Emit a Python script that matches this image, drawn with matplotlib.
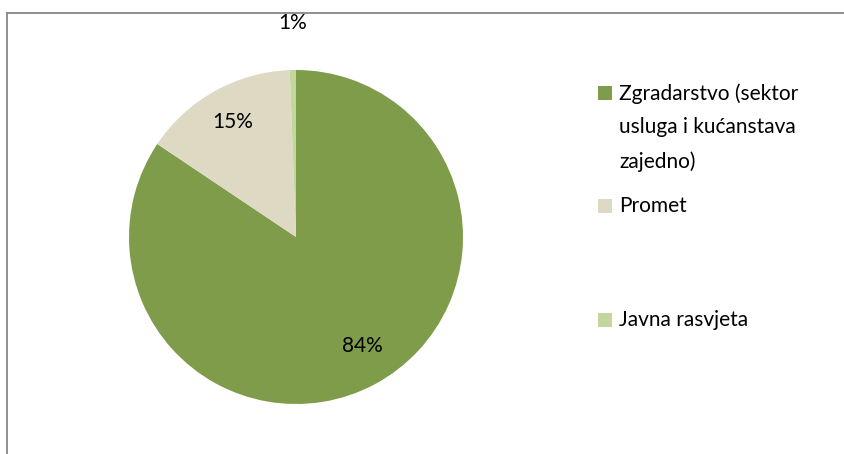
import matplotlib.pyplot as plt
from matplotlib.patches import Rectangle
from matplotlib.lines import Line2D

plt.rcParams['font.family'] = ['Lato', 'DejaVu Sans']

labels = ["Zgradarstvo (sektor\nusluga i kućanstava\nzajedno)", "Promet", "Javna rasvjeta"]
values = [84.4, 15.0, 0.6]
pct_labels = ["84%", "15%", "1%"]
colors = ["#7F9C4B", "#DDD9C3", "#C3D69B"]

W, H = 844, 454
fig = plt.figure(figsize=(W / 100, H / 100), dpi=100)

# okvir grafikona (lijevo i gore)
fig.add_artist(Line2D([6.5 / W, 6.5 / W], [0, 1 - 12.5 / H], color="#868686", lw=1.3))
fig.add_artist(Line2D([6.5 / W, 1], [1 - 12.5 / H, 1 - 12.5 / H], color="#868686", lw=1.3))

ax = fig.add_axes([129 / W, 1 - 404 / H, 334 / W, 334 / H])
wedges, _ = ax.pie(values, colors=colors, startangle=90, counterclock=False,
                   radius=1, wedgeprops=dict(linewidth=0))
ax.set_xlim(-1, 1)
ax.set_ylim(-1, 1)
ax.set_aspect("equal")
ax.axis("off")

# postoci
ax.text(0.40, -0.65, pct_labels[0], ha="center", va="center", fontsize=15)
ax.text(-0.38, 0.69, pct_labels[1], ha="center", va="center", fontsize=15)
ax.text(-0.02, 1.28, pct_labels[2], ha="center", va="center", fontsize=15)

# legenda
leg_y = [93, 206, 320]
for lab, col, y in zip(labels, colors, leg_y):
    fig.add_artist(Rectangle((598 / W, 1 - (y + 7) / H), 14 / W, 14 / H,
                             transform=fig.transFigure, color=col, lw=0))
    fig.text(619 / W, 1 - (y - 10) / H, lab, ha="left", va="top",
             fontsize=15, linespacing=1.85)

fig.savefig("out.png", dpi=100)
